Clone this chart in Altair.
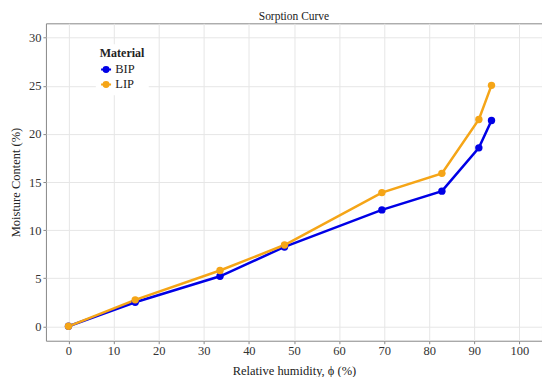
import altair as alt
import pandas as pd

rh_bip = [0, 14.8, 33.6, 47.9, 69.5, 82.8, 91.0, 93.8]
mc_bip = [0, 2.5, 5.2, 8.25, 12.1, 14.05, 18.55, 21.4]
rh_lip = [0, 14.8, 33.6, 47.9, 69.5, 82.8, 91.0, 93.8]
mc_lip = [0, 2.75, 5.8, 8.45, 13.9, 15.9, 21.5, 25.05]
materials = ["BIP", "LIP"]
colors = ["#0000E6", "#F5A517"]
x_ticks = [0, 10, 20, 30, 40, 50, 60, 70, 80, 90, 100]
y_ticks = [0, 5, 10, 15, 20, 25, 30]

df = pd.DataFrame({
    "rh": rh_bip + rh_lip,
    "mc": mc_bip + mc_lip,
    "Material": ["BIP"] * len(rh_bip) + ["LIP"] * len(rh_lip),
})

FONT = "Liberation Serif"

x = alt.X("rh:Q", scale=alt.Scale(domain=[-5, 105], nice=False, zero=False),
          axis=alt.Axis(values=x_ticks, title="Relative humidity, \u03d5 (%)", titlePadding=7,
                        labelPadding=1))
y = alt.Y("mc:Q", scale=alt.Scale(domain=[-1.5, 31.5], nice=False, zero=False),
          axis=alt.Axis(values=y_ticks, title="Moisture Content (%)", titlePadding=6,
                        labelPadding=2))
color = alt.Color("Material:N", scale=alt.Scale(domain=materials, range=colors),
                  legend=alt.Legend(orient="none", legendX=50, legendY=21, title="Material",
                                    fillColor="white", padding=4, rowPadding=1, titlePadding=3,
                                    symbolType="M-1,0L1,0M0.5,0A0.5,0.5,0,1,1,-0.5,0A0.5,0.5,0,1,1,0.5,0Z",
                                    symbolSize=100, symbolStrokeWidth=2, labelOffset=3))

base = alt.Chart(df)
lines = base.mark_line(strokeWidth=2.5).encode(x=x, y=y, color=color)
points = base.mark_point(size=55, filled=True, opacity=1).encode(x=x, y=y, color=color)

chart = (lines + points).properties(
    width=497, height=318,
    autosize=alt.AutoSizeParams(type="none"),
    padding={"left": 38, "right": 0, "top": 15, "bottom": 36},
    title=alt.Title("Sorption Curve", font=FONT, fontSize=11.5, fontWeight="normal", color="#222",
                    offset=1, frame="group"),
).configure_view(stroke="#888888", strokeWidth=1).configure_axis(
    labelFont=FONT, titleFont=FONT, labelFontSize=12.5, titleFontSize=12.5,
    titleFontWeight="normal", labelColor="#333", titleColor="#222",
    gridColor="#e6e6e6", gridWidth=1, domain=False, tickColor="#888", tickSize=3,
).configure_legend(
    labelFont=FONT, titleFont=FONT, labelFontSize=12.5, titleFontSize=12,
    titleFontWeight="bold", labelColor="#222", titleColor="#222",
)

chart.save("out.html", embed_options={"renderer": "svg", "actions": False})
